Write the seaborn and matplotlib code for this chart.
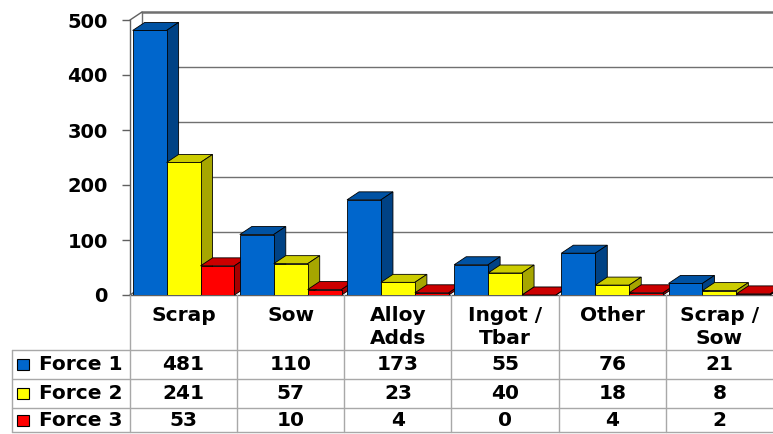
import numpy as np
import pandas as pd
import seaborn as sns
import matplotlib
matplotlib.use('Agg')
import matplotlib.pyplot as plt
import matplotlib.colors as mcolors
from matplotlib.patches import Polygon, Rectangle

categories = ['Scrap', 'Sow', 'Alloy\nAdds', 'Ingot /\nTbar', 'Other', 'Scrap /\nSow']
series = ['Force 1', 'Force 2', 'Force 3']
force1 = [481, 110, 173, 55, 76, 21]
force2 = [241, 57, 23, 40, 18, 8]
force3 = [53, 10, 4, 0, 4, 2]
colors = ['#0066CC', '#FFFF00', '#FF0000']
yticks = [0, 100, 200, 300, 400, 500]

df = pd.DataFrame({
    'Category': categories * 3,
    'Force': np.repeat(series, len(categories)),
    'Value': force1 + force2 + force3,
})

sns.set_theme(style='white')
plt.rcParams['font.family'] = ['DejaVu Sans']
plt.rcParams['font.weight'] = 'bold'
plt.rcParams['text.color'] = 'black'
plt.rcParams['ytick.labelcolor'] = 'black'

W, H = 773, 434
fig = plt.figure(figsize=(W / 100, H / 100), dpi=100)
fig.patch.set_facecolor('white')

# plot area in pixels
ax_l, ax_b, ax_w, ax_h = 130, 139, 643, 275
ax = fig.add_axes([ax_l / W, ax_b / H, ax_w / W, ax_h / H])
sns.barplot(data=df, x='Category', y='Value', hue='Force', palette=colors,
            saturation=1, width=0.95, gap=0, edgecolor='black', linewidth=0.6,
            legend=False, ax=ax)
ax.set_xlim(-0.5, 5.5)
ax.set_ylim(0, 500)
ax.set_facecolor('none')

# depth of the fake 3d, 12 px right / 8 px up
dx = 12 * 6 / ax_w
dy = 8 * 500 / ax_h

def shade(c, f):
    r, g, b, _ = mcolors.to_rgba(c)
    return (r * f, g * f, b * f)

for k, cont in enumerate(ax.containers):
    for j, bar in enumerate(cont):
        x0, w, h = bar.get_x(), bar.get_width(), bar.get_height()
        z = 2 + j * 10 + k * 3
        bar.set_zorder(z + 1)
        fc = bar.get_facecolor()
        top = Polygon([(x0, h), (x0 + dx, h + dy), (x0 + w + dx, h + dy), (x0 + w, h)],
                      closed=True, facecolor=shade(fc, 0.8), edgecolor='black',
                      lw=0.6, zorder=z, clip_on=False)
        side = Polygon([(x0 + w, 0), (x0 + w, h), (x0 + w + dx, h + dy), (x0 + w + dx, dy)],
                       closed=True, facecolor=shade(fc, 0.65), edgecolor='black',
                       lw=0.6, zorder=z, clip_on=False)
        ax.add_patch(top)
        ax.add_patch(side)

# back wall
for t in yticks[1:]:
    ax.plot([-0.5 + dx, 5.5 + dx], [t + dy, t + dy], color='#707070',
            lw=1.8 if t == 500 else 1.0, zorder=0.5, clip_on=False)
ax.plot([-0.5 + dx, 5.5 + dx], [dy, dy], color='#707070', lw=1.0, zorder=0.5, clip_on=False)
ax.plot([-0.5 + dx, -0.5 + dx], [dy, 500 + dy], color='#707070', lw=1.0, zorder=0.5, clip_on=False)
for t in [0, 500]:
    ax.plot([-0.5, -0.5 + dx], [t, t + dy], color='#606060', lw=1.0, zorder=0.5, clip_on=False)

sns.despine(ax=ax, top=True, right=True)
for s in ['left', 'bottom']:
    ax.spines[s].set_color('#606060')
    ax.spines[s].set_linewidth(1.0)
ax.set_xticks([])
ax.set_yticks(yticks)
ax.set_yticklabels([str(t) for t in yticks], fontsize=14, fontweight='bold', color='black')
ax.tick_params(axis='y', left=True, length=6, width=1, color='#606060', pad=10)
ax.set_xlabel('')
ax.set_ylabel('')

# data table under the bars (y in pixels from the floor line downward)
tax = fig.add_axes([ax_l / W, 0, ax_w / W, ax_b / H])
tax.set_xlim(-0.5, 5.5)
tax.set_ylim(ax_b, 0)
tax.axis('off')
px = 6 / ax_w
x_left = -0.5 - (ax_l - 12) * px
line_c = '#a8a8a8'
rows = [55, 84, 113, 137]
for y in rows:
    tax.plot([x_left, 5.5], [y, y], color=line_c, lw=1, clip_on=False)
tax.plot([x_left, x_left], [rows[0], rows[-1]], color=line_c, lw=1, clip_on=False)
for i in range(6):
    tax.plot([i - 0.5, i - 0.5], [0, rows[-1]], color=line_c, lw=1, clip_on=False)

for i, cat in enumerate(categories):
    tax.text(i, 11, cat, ha='center', va='top', fontsize=14.5, fontweight='bold',
             linespacing=1.3, color='black', clip_on=False)

values = [force1, force2, force3]
for r, (name, vals, col) in enumerate(zip(series, values, colors)):
    yc = (rows[r] + rows[r + 1]) / 2
    tax.add_patch(Rectangle((x_left + 5 * px, yc - 5.5), 12 * px, 11, facecolor=col,
                            edgecolor='black', lw=0.8, clip_on=False))
    tax.text(x_left + 27 * px, yc, name, ha='left', va='center', fontsize=14.5,
             fontweight='bold', color='black', clip_on=False)
    for i, v in enumerate(vals):
        tax.text(i, yc, str(v), ha='center', va='center', fontsize=14.5,
                 fontweight='bold', color='black', clip_on=False)

fig.savefig('out.png', dpi=100, facecolor='white')
